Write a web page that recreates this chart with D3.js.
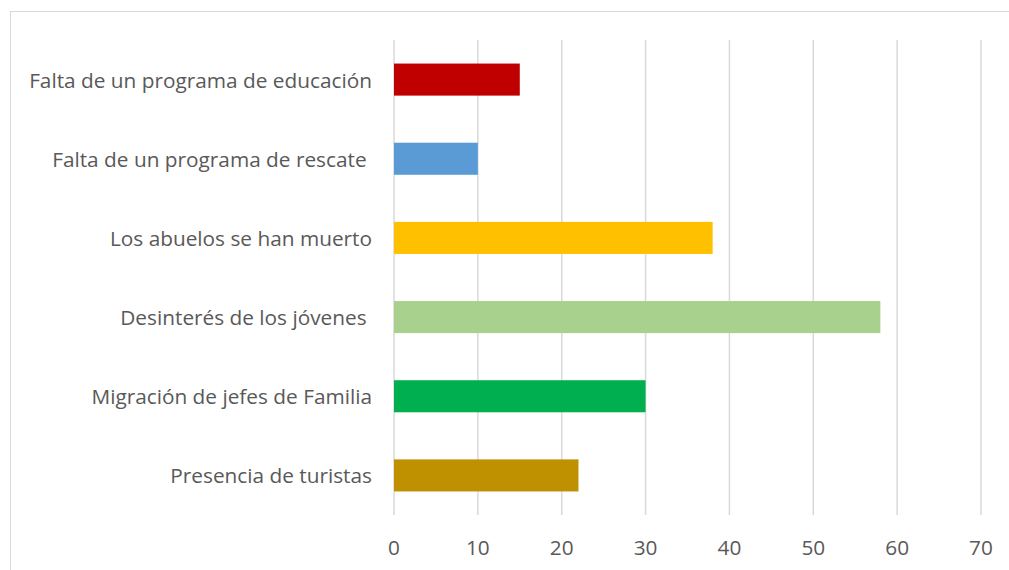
<!DOCTYPE html>
<html>
<head>
<meta charset="utf-8">
<script src="https://cdn.jsdelivr.net/npm/d3@7"></script>
<style>
	body { margin: 0; background: #fff; }
	text { font-family: "Open Sans", Lato, sans-serif; fill: #595959; white-space: pre; }
</style>
</head>
<body>
<svg id="chart" width="1009" height="570"></svg>
<script>
// Categories top to bottom
let categories = [
	"Falta de un programa de educación",
	"Falta de un programa de rescate ",
	"Los abuelos se han muerto",
	"Desinterés de los jóvenes ",
	"Migración de jefes de Familia",
	"Presencia de turistas"
]
let values = [15, 10, 38, 58, 30, 22]
let colours = ["#C00000", "#5B9BD5", "#FFC000", "#A9D18E", "#00B050", "#BF9000"]
let ticks = [0, 10, 20, 30, 40, 50, 60, 70]

let svg = d3.select("#chart")
let margin = { top: 40, right: 28, bottom: 55, left: 394 }
let width = 1009, height = 570
let fontSize = 20.8

// Outer chart border (right and bottom edges fall outside the frame)
svg.append("rect")
	.attr("x", 10.5).attr("y", 11.5)
	.attr("width", 1010).attr("height", 570)
	.attr("fill", "none")
	.attr("stroke", "#d9d9d9")
	.attr("stroke-width", 1)

let x = d3.scaleLinear()
	.domain([0, 70])
	.range([margin.left, width - margin.right])

let y = d3.scaleBand()
	.domain(categories)
	.range([margin.top, height - margin.bottom])
	.paddingInner(0.595)
	.paddingOuter(0.2975)

// Vertical gridlines
svg.append("g")
	.selectAll("line")
	.data(ticks)
	.join("line")
	.attr("x1", d => x(d)).attr("x2", d => x(d))
	.attr("y1", margin.top).attr("y2", height - margin.bottom)
	.attr("stroke", "#d9d9d9")
	.attr("stroke-width", 1.5)

// Bars
svg.append("g")
	.selectAll("rect")
	.data(categories)
	.join("rect")
	.attr("x", x(0))
	.attr("y", d => y(d))
	.attr("height", y.bandwidth())
	.attr("width", (d, i) => x(values[i]) - x(0))
	.attr("fill", (d, i) => colours[i])

// Category labels
svg.append("g")
	.selectAll("text")
	.data(categories)
	.join("text")
	.attr("x", margin.left - 22)
	.attr("y", d => y(d) + y.bandwidth() / 2)
	.attr("text-anchor", "end")
	.attr("dominant-baseline", "central")
	.style("font-size", `${fontSize}px`)
	.text(d => d)

// Tick labels
svg.append("g")
	.selectAll("text")
	.data(ticks)
	.join("text")
	.attr("x", d => x(d))
	.attr("y", 547)
	.attr("text-anchor", "middle")
	.attr("dominant-baseline", "central")
	.style("font-size", `${fontSize}px`)
	.text(d => d)
</script>
</body>
</html>
